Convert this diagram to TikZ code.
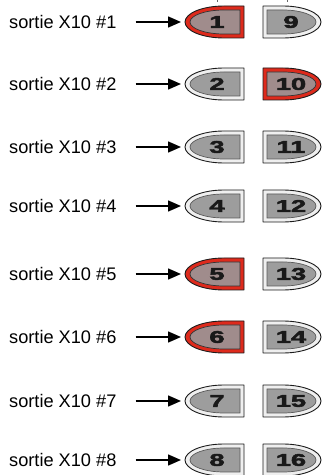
\documentclass[tikz,border=0pt]{standalone}
\usepackage{fontspec}
\setmainfont{Liberation Sans}
\newfontfamily\numfont[FakeBold=2.5]{Liberation Sans Bold}
\usetikzlibrary{arrows.meta}
\definecolor{btnred}{HTML}{DE2A1C}
\definecolor{btnband}{HTML}{EFEFEF}
\definecolor{fillon}{HTML}{A08C8C}
\definecolor{filloff}{HTML}{9D9D9D}
\definecolor{outl}{HTML}{1C1C1C}
\tikzset{
  outer/.style={draw=outl, line width=0.9pt, line join=round},
  bandon/.style={fill=btnred},
  bandoff/.style={fill=btnband},
  inneron/.style={fill=fillon, draw=black!80, line width=0.7pt},
  inneroff/.style={fill=filloff, draw=black!65, line width=0.7pt},
  numtxt/.style={inner sep=0pt, font=\fontsize{17}{17}\selectfont\numfont, xscale=1.6, text=black!90},
  lbl/.style={inner sep=0pt, anchor=west, font=\fontsize{18.2}{19}\selectfont},
  arr/.style={line width=1.5pt, -{Triangle[length=13pt,width=11pt]}, shorten <=19pt, shorten >=4pt},
  tick/.style={draw=black!60, line width=0.8pt}
}
% left-pointing button: #1 name, #2 right x, #3 centre y, #4 on/off, #5 number
\newcommand\ButtonLeft[5]{%
  \path[outer, band#4] (#2,#3+16) -- (#2-20,#3+16)
     arc[start angle=90, end angle=270, x radius=39pt, y radius=16pt]
     -- (#2,#3-16) -- cycle;
  \path[inner#4] (#2-4,#3+12) -- (#2-20,#3+12)
     arc[start angle=90, end angle=270, x radius=34pt, y radius=12pt]
     -- (#2-4,#3-12) -- cycle;
  \node[numtxt] (#1) at (#2-27,#3) {#5};
  \coordinate (tip#1) at (#2-59,#3);
}
% right-pointing button: #1 name, #2 left x, #3 centre y, #4 on/off, #5 number
\newcommand\ButtonRight[5]{%
  \path[outer, band#4] (#2,#3+16) -- (#2+20,#3+16)
     arc[start angle=90, end angle=-90, x radius=38pt, y radius=16pt]
     -- (#2,#3-16) -- cycle;
  \path[inner#4] (#2+4,#3+12) -- (#2+20,#3+12)
     arc[start angle=90, end angle=-90, x radius=33pt, y radius=12pt]
     -- (#2+4,#3-12) -- cycle;
  \node[numtxt] (#1) at (#2+28,#3) {#5};
}
\begin{document}
\begin{tikzpicture}[x=1pt, y=1pt]
  \fill[white] (0,0) rectangle (323,475);
  \useasboundingbox (0,0) rectangle (323,475);
  \draw[tick] (217,475) -- (217,473);
  \draw[tick] (287,475) -- (287,473);
  \foreach \i/\yp/\la/\ra in {1/22/on/off, 2/84/off/on, 3/147/off/off, 4/206/off/off,
                              5/274/on/off, 6/337/on/off, 7/401/off/off, 8/460/off/off}{
    \pgfmathsetmacro\yc{475-\yp}
    \pgfmathtruncatemacro\rn{\i+8}
    \ButtonLeft{L\i}{244}{\yc}{\la}{\i}
    \ButtonRight{R\i}{263}{\yc}{\ra}{\rn}
    \node[lbl] (T\i) at (9,\yc) {sortie X10 \#\i};
    \draw[arr] (T\i.east) -- (tipL\i);
  }
\end{tikzpicture}
\end{document}
